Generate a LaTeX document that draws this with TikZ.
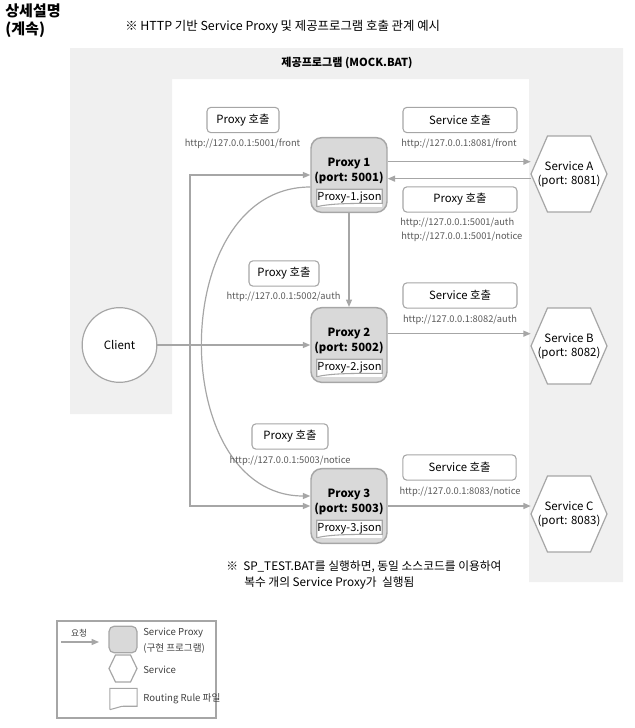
\documentclass[tikz,border=0pt]{standalone}
\usepackage{fontspec}
\setmainfont{Noto Sans CJK KR}
\usetikzlibrary{arrows.meta}

\definecolor{bggray}{HTML}{F0F0F0}
\definecolor{linegray}{HTML}{A6A6A6}
\definecolor{boxgray}{HTML}{D9D9D9}
\definecolor{urlgray}{HTML}{595959}

\tikzset{
    req/.style={draw=linegray, line width=0.9pt, -{Triangle[length=5.5pt,width=4.5pt]}},
    proxybox/.style={draw=linegray, fill=boxgray, line width=1.1pt, rounded corners=8pt,
        minimum width=57pt, minimum height=56pt},
    proxytxt/.style={inner sep=0pt, align=center, font=\fontsize{8.5}{11.25}\selectfont\bfseries},
    jsonbox/.style={fill=white, inner sep=0pt, minimum width=48.75pt, minimum height=12.75pt,
        font=\fontsize{8.3}{10}\selectfont},
    hexline/.style={draw=linegray, fill=white, line width=0.9pt},
    svctxt/.style={inner sep=0pt, minimum width=57pt, minimum height=57pt, align=center,
        font=\fontsize{8.6}{10.5}\selectfont},
    callbox/.style={draw=linegray, fill=white, line width=0.8pt, rounded corners=3pt,
        minimum height=19pt, inner sep=0pt, font=\fontsize{8.5}{10}\selectfont},
    url/.style={text=urlgray, inner sep=0pt, font=\fontsize{7}{8.5}\selectfont},
    legtxt/.style={text=black!75, anchor=west, inner sep=0pt, font=\fontsize{7.2}{8.5}\selectfont},
}

% routing rule file outline round a node
\newcommand\docline[1]{%
    \draw[linegray, line width=0.8pt] (#1.south west) -- (#1.north west) -- (#1.north east)
        -- ([yshift=2.5pt]#1.south east) .. controls +(-16pt,0pt) and +(12pt,3pt) .. (#1.south west);}
% service hexagon with its text node
\newcommand\servicehex[3]{%
    \draw[hexline, shift={(#2)}] (-38,0) -- (-21.5,-38) -- (21.5,-38) -- (38,0)
        -- (21.5,38) -- (-21.5,38) -- cycle;
    \node[svctxt] (#1) at (#2) {#3};}

\begin{document}
\begin{tikzpicture}[x=0.75pt, y=-0.75pt]
    \useasboundingbox (0,0) rectangle (635,728);

    % background of MOCK.BAT
    \fill[bggray] (70,48) -- (623,48) -- (623,582) -- (529,582) -- (529,79)
        -- (172,79) -- (172,414) -- (70,414) -- cycle;

    % titles
    \node[anchor=north west, align=left, inner sep=0pt,
        font=\fontsize{11.3}{13.5}\selectfont\bfseries] (head) at (5,4) {상세설명\\(계속)};
    \node[anchor=west, inner sep=0pt, font=\fontsize{9.3}{10}\selectfont] (subt) at (125,27)
        {※ HTTP 기반 Service Proxy 및 제공프로그램 호출 관계 예시};
    \node[inner sep=0pt, font=\fontsize{8.3}{10}\selectfont\bfseries] (mock) at (347,63)
        {제공프로그램 (MOCK.BAT)};

    % proxies
    \node[proxybox] (p1) at (349,175) {};
    \node[proxytxt] (p1t) at (349,170.5) {Proxy 1\\(port: 5001)};
    \node[jsonbox] (j1) at (349.5,198) {Proxy-1.json};
    \docline{j1}

    \node[proxybox] (p2) at (349,345) {};
    \node[proxytxt] (p2t) at (349,340.5) {Proxy 2\\(port: 5002)};
    \node[jsonbox] (j2) at (349.5,368) {Proxy-2.json};
    \docline{j2}

    \node[proxybox] (p3) at (349,506) {};
    \node[proxytxt] (p3t) at (349,501.5) {Proxy 3\\(port: 5003)};
    \node[jsonbox] (j3) at (349.5,529) {Proxy-3.json};
    \docline{j3}

    % services and client
    \servicehex{svcA}{569,174}{Service A\\(port: 8081)}
    \servicehex{svcB}{569,346}{Service B\\(port: 8082)}
    \servicehex{svcC}{569,514}{Service C\\(port: 8083)}
    \node[circle, draw=linegray, fill=white, line width=0.9pt, minimum size=56pt, inner sep=0pt,
        font=\fontsize{8.6}{10}\selectfont] (client) at (119.5,345) {Client};

    % calls
    \coordinate (fork) at (190,345);
    \draw[req] (client.east) -- (p2.west);
    \draw[req] (fork) |- (p1.west);
    \draw[req] (fork) |- (p3.west);
    \draw[req] ([yshift=-9pt]p1.west) .. controls +(-144,0) and +(-144,0) .. ([yshift=7.5pt]p3.west);
    \draw[req] (p1.south) -- (p2.north);
    \draw[req] ([yshift=10pt]p1.east) -- ([yshift=10pt]p1.east -| svcA.west);
    \draw[req] ([yshift=-3.5pt]svcA.west) -- ([yshift=-3.5pt]svcA.west -| p1.east);
    \draw[req] ([yshift=8.5pt]p2.east) -- ([yshift=8.5pt]p2.east -| svcB.west);
    \draw[req] (p3.east) -- (p3.east -| svcC.west);

    % call labels
    \node[callbox, minimum width=54pt] (pc1) at (243,120) {Proxy 호출};
    \node[url] (pu1) at (242.5,144) {http://127.0.0.1:5001/front};
    \node[callbox, minimum width=85.5pt] (sc1) at (460,120) {Service 호출};
    \node[url] (su1) at (459,144) {http://127.0.0.1:8081/front};
    \node[callbox, minimum width=85.5pt] (pc1b) at (460,199.5) {Proxy 호출};
    \node[url, anchor=west] (pu1b) at (400,223) {http://127.0.0.1:5001/auth};
    \node[url, anchor=west] (pu1c) at (401,237) {http://127.0.0.1:5001/notice};

    \node[callbox, minimum width=52.5pt] (pc2) at (284,273.5) {Proxy 호출};
    \node[url] (pu2) at (283.5,297) {http://127.0.0.1:5002/auth};
    \node[callbox, minimum width=85.5pt] (sc2) at (460,295.5) {Service 호출};
    \node[url] (su2) at (460,320) {http://127.0.0.1:8082/auth};

    \node[callbox, minimum width=57pt] (pc3) at (290,436.5) {Proxy 호출};
    \node[url] (pu3) at (290,461) {http://127.0.0.1:5003/notice};
    \node[callbox, minimum width=85pt] (sc3) at (459.5,467.5) {Service 호출};
    \node[url] (su3) at (460,492) {http://127.0.0.1:8083/notice};

    % note
    \node[anchor=west, inner sep=0pt, font=\fontsize{8.8}{10}\selectfont] (note1) at (226,567)
        {※\ \ SP\_TEST.BAT를 실행하면, 동일 소스코드를 이용하여};
    \node[anchor=west, inner sep=0pt, font=\fontsize{8.8}{10}\selectfont] (note2) at (244,583)
        {복수 개의 Service Proxy가\ \ 실행됨};

    % legend
    \draw[linegray, line width=0.8pt] (57,621) rectangle (216,718);
    \node[inner sep=0pt, text=black!75, font=\fontsize{6.5}{8}\selectfont] (lgreq) at (79,633) {요청};
    \coordinate (lgA) at (61,642);
    \coordinate (lgB) at (99,642);
    \draw[req] (lgA) -- (lgB);
    \node[proxybox, minimum width=21pt, minimum height=20pt, rounded corners=4pt, line width=0.9pt]
        (lgproxy) at (123,639.5) {};
    \node[legtxt] (lgp1) at (143,633) {Service Proxy};
    \node[legtxt] (lgp2) at (143,648) {(구현 프로그램)};
    \draw[hexline, shift={(123,668.5)}] (-14,0) -- (-7.5,-13.5) -- (7.5,-13.5) -- (14,0)
        -- (7.5,13.5) -- (-7.5,13.5) -- cycle;
    \node[legtxt] (lgs) at (143,670) {Service};
    \node[jsonbox, minimum width=20pt, minimum height=15.5pt] (lgdoc) at (123.5,699) {};
    \docline{lgdoc}
    \node[legtxt] (lgd) at (143,699) {Routing Rule 파일};
\end{tikzpicture}
\end{document}
